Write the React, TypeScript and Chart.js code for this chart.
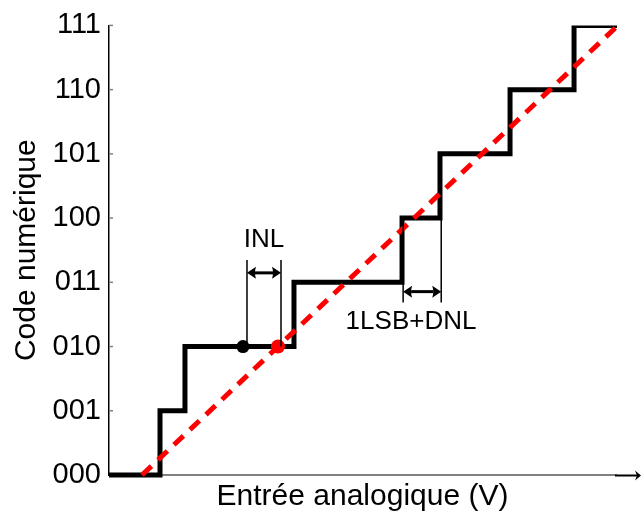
import React, { useEffect, useRef } from "react";
import { Chart, registerables } from "chart.js";

Chart.register(...registerables);

// ---- data ----
const codeLabels = ["000", "001", "010", "011", "100", "101", "110", "111"];
const stepStartX = -0.485;
const transitionX = [0.265, 0.632, 2.235, 3.824, 4.382, 5.412, 6.353];
const stepEndX = 6.985;
const idealX = [0, 7];
const idealY = [0, 7];
const measuredPoint = [1.485, 2];
const idealPoint = [2.0, 2];
const inlX = [1.544, 2.044];
const inlY = [3.347, 3.147, 3.654]; // line top, arrow, label
const dnlX = [3.84, 4.4];
const dnlY = [2.687, 2.855, 2.38]; // line bottom, arrow, label
const dnlLabelX = 3.956;
const xRange = [-0.485, 6.97];

const FONT = '"Liberation Sans", Arial, Helvetica, sans-serif';

function buildStepData() {
  const pts = [{ x: stepStartX, y: 0 }];
  transitionX.forEach((tx, i) => pts.push({ x: tx, y: i + 1 }));
  pts.push({ x: stepEndX, y: transitionX.length });
  return pts;
}

function dblArrow(ctx: CanvasRenderingContext2D, x1: number, x2: number, yy: number) {
  const hl = 9;
  const hw = 6;
  ctx.lineWidth = 3;
  ctx.beginPath();
  ctx.moveTo(x1 + hl - 1, yy);
  ctx.lineTo(x2 - hl + 1, yy);
  ctx.stroke();
  ctx.beginPath();
  ctx.moveTo(x1, yy);
  ctx.lineTo(x1 + hl, yy - hw);
  ctx.quadraticCurveTo(x1 + hl - 2, yy, x1 + hl, yy + hw);
  ctx.closePath();
  ctx.fill();
  ctx.beginPath();
  ctx.moveTo(x2, yy);
  ctx.lineTo(x2 - hl, yy - hw);
  ctx.quadraticCurveTo(x2 - hl + 2, yy, x2 - hl, yy + hw);
  ctx.closePath();
  ctx.fill();
}

const decorPlugin = {
  id: "decor",
  beforeDatasetsDraw(chart: any) {
    const { ctx, scales, chartArea } = chart;
    const y = scales.y;
    ctx.save();
    ctx.strokeStyle = "#808080";
    ctx.lineWidth = 1.5;
    codeLabels.forEach((_, i) => {
      if (i === 0) return;
      const py = y.getPixelForValue(i);
      ctx.beginPath();
      ctx.moveTo(chartArea.left, py);
      ctx.lineTo(chartArea.left + 4, py);
      ctx.stroke();
    });
    // x axis arrow
    const by = chartArea.bottom + 0.5;
    ctx.strokeStyle = "#000";
    ctx.fillStyle = "#000";
    ctx.lineWidth = 2;
    ctx.beginPath();
    ctx.moveTo(chartArea.right - 1, by);
    ctx.lineTo(chart.width - 3, by);
    ctx.stroke();
    ctx.beginPath();
    ctx.moveTo(chart.width, by);
    ctx.lineTo(chart.width - 6, by - 5);
    ctx.lineTo(chart.width - 4, by);
    ctx.lineTo(chart.width - 6, by + 5);
    ctx.closePath();
    ctx.fill();
    ctx.restore();
  },
  afterDatasetsDraw(chart: any) {
    const { ctx, scales } = chart;
    const x = scales.x;
    const y = scales.y;
    ctx.save();
    ctx.strokeStyle = "#000";
    ctx.fillStyle = "#000";
    ctx.lineWidth = 1.5;
    // INL
    const ix1 = x.getPixelForValue(inlX[0]);
    const ix2 = x.getPixelForValue(inlX[1]);
    const iTop = y.getPixelForValue(inlY[0]);
    const iBot = y.getPixelForValue(measuredPoint[1]);
    ctx.beginPath();
    ctx.moveTo(ix1, iTop);
    ctx.lineTo(ix1, iBot);
    ctx.moveTo(ix2, iTop);
    ctx.lineTo(ix2, iBot);
    ctx.stroke();
    dblArrow(ctx, ix1, ix2, y.getPixelForValue(inlY[1]));
    // DNL
    const dx1 = x.getPixelForValue(dnlX[0]);
    const dx2 = x.getPixelForValue(dnlX[1]);
    const dTop = y.getPixelForValue(4);
    const dBot = y.getPixelForValue(dnlY[0]);
    ctx.lineWidth = 1.5;
    ctx.beginPath();
    ctx.moveTo(dx1, dTop);
    ctx.lineTo(dx1, dBot);
    ctx.moveTo(dx2, dTop);
    ctx.lineTo(dx2, dBot);
    ctx.stroke();
    dblArrow(ctx, dx1, dx2, y.getPixelForValue(dnlY[1]));
    // labels
    ctx.font = `26px ${FONT}`;
    ctx.textAlign = "center";
    ctx.textBaseline = "middle";
    ctx.fillText("INL", (ix1 + ix2) / 2, y.getPixelForValue(inlY[2]));
    ctx.fillText("1LSB+DNL", x.getPixelForValue(dnlLabelX), y.getPixelForValue(dnlY[2]));
    ctx.restore();
  },
};

export default function App() {
  const ref = useRef<HTMLCanvasElement | null>(null);
  useEffect(() => {
    if (!ref.current) return;
    const chart = new Chart(ref.current, {
      type: "line",
      data: {
        datasets: [
          {
            label: "measured",
            data: [{ x: measuredPoint[0], y: measuredPoint[1] }],
            showLine: false,
            pointRadius: 6.5,
            pointBackgroundColor: "#000",
            pointBorderWidth: 0,
          },
          {
            label: "idealpoint",
            data: [{ x: idealPoint[0], y: idealPoint[1] }],
            showLine: false,
            pointRadius: 7,
            pointBackgroundColor: "#ff0000",
            pointBorderWidth: 0,
          },
          {
            label: "ideal",
            data: idealX.map((v, i) => ({ x: v, y: idealY[i] })),
            borderColor: "#ff0000",
            borderWidth: 5,
            borderDash: [13, 9],
            pointRadius: 0,
            clip: false,
          },
          {
            label: "step",
            data: buildStepData(),
            stepped: true,
            borderColor: "#000",
            borderWidth: 5,
            pointRadius: 0,
            clip: { left: 5, top: 0, right: 5, bottom: 5 },
          },
        ],
      } as any,
      options: {
        responsive: false,
        animation: false,
        events: [],
        layout: { padding: { top: 19, right: 25, bottom: 0, left: 0 } },
        plugins: { legend: { display: false }, tooltip: { enabled: false } },
        scales: {
          x: {
            type: "linear",
            min: xRange[0],
            max: xRange[1],
            grid: { display: false, drawTicks: false },
            border: { display: true, color: "#808080", width: 2 },
            ticks: { display: false },
            title: {
              display: true,
              text: "Entrée analogique (V)",
              color: "#000",
              font: { family: FONT, size: 30 },
              padding: { top: 0, bottom: 0 },
            },
            afterFit: (s: any) => {
              s.height = 40;
            },
          },
          y: {
            type: "linear",
            min: 0,
            max: 7,
            grid: { display: false, drawTicks: false },
            border: { display: true, color: "#000", width: 1.5 },
            ticks: {
              stepSize: 1,
              padding: 8,
              color: "#000",
              font: { family: FONT, size: 29 },
              callback: (v: any) => codeLabels[Number(v)] ?? "",
            },
            title: {
              display: true,
              text: "Code numérique",
              color: "#000",
              font: { family: FONT, size: 30 },
              padding: { top: 9, bottom: 0 },
            },
            afterFit: (s: any) => {
              s.width = 109;
            },
          },
        },
      } as any,
      plugins: [decorPlugin],
    });
    return () => chart.destroy();
  }, []);
  return (
    <div style={{ position: "absolute", left: 0, top: 0, width: 641, height: 515, background: "#fff" }}>
      <canvas ref={ref} width={641} height={515} />
    </div>
  );
}
